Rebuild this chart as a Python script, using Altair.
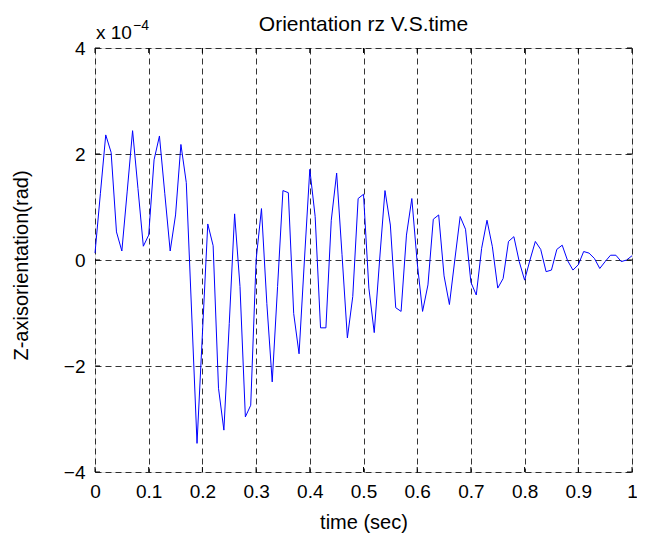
import altair as alt
import pandas as pd

# time samples (sec) and orientation rz in units of 1e-4 rad
time_s = [round(i * 0.01, 2) for i in range(101)]
rz_e4 = [
    0.13, 1.25, 2.36, 2.03, 0.53, 0.17, 1.30, 2.44, 1.35, 0.26,
    0.47, 1.89, 2.34, 1.25, 0.17, 0.85, 2.18, 1.46, -1.00, -3.46,
    -1.40, 0.68, 0.27, -2.42, -3.21, -1.20, 0.87, -0.50, -2.96, -2.74,
    0.00, 0.97, -0.82, -2.30, -0.50, 1.31, 1.27, -1.01, -1.77, 0.00,
    1.71, 0.82, -1.28, -1.28, 0.75, 1.64, 0.10, -1.47, -0.69, 1.16,
    1.24, -0.53, -1.37, 0.00, 1.31, 0.66, -0.90, -0.97, 0.47, 1.16,
    -0.05, -0.97, -0.47, 0.77, 0.85, -0.30, -0.84, 0.00, 0.82, 0.58,
    -0.42, -0.66, 0.22, 0.75, 0.25, -0.53, -0.35, 0.35, 0.44, -0.03,
    -0.38, 0.00, 0.35, 0.20, -0.22, -0.19, 0.20, 0.28, -0.01, -0.19,
    -0.09, 0.16, 0.13, 0.03, -0.16, -0.03, 0.09, 0.09, -0.03, 0.00,
    0.08,
]
x_ticks = [0, 0.1, 0.2, 0.3, 0.4, 0.5, 0.6, 0.7, 0.8, 0.9, 1]
y_ticks = [-4, -2, 0, 2, 4]
title_text = ["Orientation rz V.S.time"]
exponent_base = ["x 10"]
exponent_power = ["\u22124"]

W, H = 537, 424
FONT = "Liberation Sans"
TICK = 5

df = pd.DataFrame({"t": time_s, "rz": rz_e4})
xt = pd.DataFrame({"t": x_ticks})
yt = pd.DataFrame({"rz": y_ticks})

xscale = alt.Scale(domain=[0, 1], nice=False, zero=False)
yscale = alt.Scale(domain=[-4, 4], nice=False, zero=False)

x_axis = alt.Axis(
    values=x_ticks, format="~g", title="time (sec)",
    grid=True, gridDash=[6, 4], gridColor="black", gridOpacity=1, gridWidth=0.8,
    ticks=False, tickSize=0, domain=False,
    labelFont=FONT, labelFontSize=19, labelColor="black",
    labelBaseline="alphabetic", labelPadding=25, labelFlush=False,
    titleFont=FONT, titleFontSize=20, titleFontWeight="normal", titleColor="black",
    titleX=W / 2, titleY=56, titleBaseline="alphabetic",
)
y_axis = alt.Axis(
    values=y_ticks, format="d", title="Z-axisorientation(rad)",
    grid=True, gridDash=[6, 4], gridColor="black", gridOpacity=1, gridWidth=0.8,
    ticks=False, tickSize=0, domain=False,
    labelFont=FONT, labelFontSize=19, labelColor="black",
    labelPadding=10, labelFlush=False,
    titleFont=FONT, titleFontSize=20, titleFontWeight="normal", titleColor="black",
    titleX=-74, titleY=217, titleBaseline="middle", titleAngle=270,
)
X = alt.X("t:Q", scale=xscale, axis=x_axis, title="time (sec)")
Y = alt.Y("rz:Q", scale=yscale, axis=y_axis, title="Z-axisorientation(rad)")

line = alt.Chart(df).mark_line(color="#0000ff", strokeWidth=1).encode(x=X, y=Y)

bottom_ticks = alt.Chart(xt).mark_rule(color="black", strokeWidth=1).encode(
    x=X, y=alt.value(H), y2=alt.value(H - TICK))
top_ticks = alt.Chart(xt).mark_rule(color="black", strokeWidth=1).encode(
    x=X, y=alt.value(0), y2=alt.value(TICK))
left_ticks = alt.Chart(yt).mark_rule(color="black", strokeWidth=1).encode(
    y=Y, x=alt.value(0), x2=alt.value(TICK))
right_ticks = alt.Chart(yt).mark_rule(color="black", strokeWidth=1).encode(
    y=Y, x=alt.value(W - TICK), x2=alt.value(W))

title = alt.Chart(pd.DataFrame({"s": title_text})).mark_text(
    font=FONT, fontSize=21, align="center", baseline="alphabetic", color="black"
).encode(text="s:N", x=alt.value(W / 2), y=alt.value(-17.5))
exp_base = alt.Chart(pd.DataFrame({"s": exponent_base})).mark_text(
    font=FONT, fontSize=19, align="left", baseline="alphabetic", color="black"
).encode(text="s:N", x=alt.value(1), y=alt.value(-9))
exp_sup = alt.Chart(pd.DataFrame({"s": exponent_power})).mark_text(
    font=FONT, fontSize=14, align="left", baseline="alphabetic", color="black"
).encode(text="s:N", x=alt.value(38), y=alt.value(-18))

chart = alt.layer(
    line, bottom_ticks, top_ticks, left_ticks, right_ticks, title, exp_base, exp_sup
).properties(
    width=W,
    height=H,
    padding={"left": 87, "top": 40, "right": 5, "bottom": 65},
    autosize="none",
).configure_view(
    stroke="black", strokeWidth=1.2, fill="white"
).configure(background="white")

chart.save("out.html", embed_options={"renderer": "svg", "actions": False})
